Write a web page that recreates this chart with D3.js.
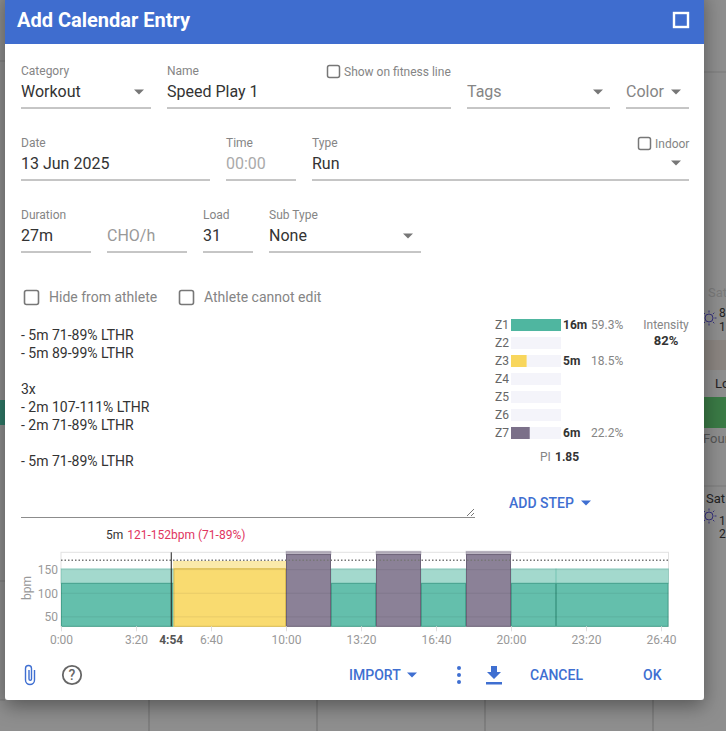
<!DOCTYPE html>
<html>
<head>
<meta charset="utf-8">
<script src="https://cdn.jsdelivr.net/npm/d3@7"></script>
<style>
  html, body { margin: 0; padding: 0; background: #8e8e8e; overflow: hidden; }
  svg { display: block; font-family: Roboto, sans-serif; }
</style>
</head>
<body>
<svg id="chart" width="726" height="731"></svg>
<script>
// workout steps
const stepMinutes = [5, 5, 2, 2, 2, 2, 2, 2, 5];
const stepLow = [121, 152, 182, 121, 182, 121, 182, 121, 121];
const stepHigh = [152, 168, 189, 152, 189, 152, 189, 152, 152];
const stepZone = ["Z1", "Z3", "Z7", "Z1", "Z7", "Z1", "Z7", "Z1", "Z1"];

const lthr = 170;
const cursorSeconds = 294;
const xTickSeconds = [0, 200, 400, 600, 800, 1000, 1200, 1400, 1600];
const xTickLabels = ["0:00", "3:20", "6:40", "10:00", "13:20", "16:40", "20:00", "23:20", "26:40"];
const yTicks = [50, 100, 150];

// zone table
const zoneNames = ["Z1", "Z2", "Z3", "Z4", "Z5", "Z6", "Z7"];
const zonePercent = [59.3, 0, 18.5, 0, 0, 0, 22.2];
const zoneTime = ["16m", "", "5m", "", "", "", "6m"];
const zonePercentLabel = ["59.3%", "", "18.5%", "", "", "", "22.2%"];

const notesLines = ["- 5m 71-89% LTHR", "- 5m 89-99% LTHR", "", "3x", "- 2m 107-111% LTHR", "- 2m 71-89% LTHR", "", "- 5m 71-89% LTHR"];

const zoneColor = { Z1: "#4fb6a0", Z3: "#f8d65c", Z7: "#7b7089" };
const blue = "#3f6fd1";

const svg = d3.select("#chart");

// ---- calendar behind the dialog
svg.append("rect").attr("width", 726).attr("height", 731).attr("fill", "#8e8e8e");
const bg = svg.append("g");
bg.append("rect").attr("x", 704).attr("y", 340).attr("width", 22).attr("height", 30).attr("fill", "#8a8480");
bg.append("rect").attr("x", 704).attr("y", 397).attr("width", 22).attr("height", 31).attr("fill", "#3a7a45");
bg.append("rect").attr("x", 0).attr("y", 400).attr("width", 5).attr("height", 25).attr("fill", "#2f7a68");
[[0, 5, 61], [704, 726, 72], [0, 5, 581], [704, 726, 486], [0, 5, 700]].forEach((l) => {
  bg.append("line").attr("x1", l[0]).attr("x2", l[1]).attr("y1", l[2]).attr("y2", l[2]).attr("stroke", "#7a7a7a");
});
[149, 317, 485, 653].forEach((x) => {
  bg.append("line").attr("x1", x).attr("x2", x).attr("y1", 700).attr("y2", 731).attr("stroke", "#6f6f6f");
});
[["Sat", 708, 297, "#7a7a7a", 13], ["8", 719, 317, "#222", 12], ["1", 719, 331, "#222", 12], ["Lo", 715, 388, "#222", 13],
 ["Four", 703, 443, "#555", 13], ["Sat", 706, 503, "#222", 13], ["1", 719, 525, "#222", 12], ["2", 719, 538, "#222", 12]].forEach((t) => {
  bg.append("text").attr("x", t[1]).attr("y", t[2]).attr("font-size", t[4]).attr("fill", t[3]).text(t[0]);
});
[318, 516].forEach((cy) => {
  bg.append("circle").attr("cx", 709).attr("cy", cy).attr("r", 4).attr("fill", "none").attr("stroke", "#35307f");
  d3.range(8).forEach((i) => {
    const a = (i * Math.PI) / 4;
    bg.append("line")
      .attr("x1", 709 + 5.5 * Math.cos(a)).attr("y1", cy + 5.5 * Math.sin(a))
      .attr("x2", 709 + 7.5 * Math.cos(a)).attr("y2", cy + 7.5 * Math.sin(a))
      .attr("stroke", "#35307f");
  });
});

// ---- dialog
const defs = svg.append("defs");
const shadow = defs.append("filter").attr("id", "shadow").attr("x", "-10%").attr("y", "-10%").attr("width", "120%").attr("height", "120%");
shadow.append("feDropShadow").attr("dx", 0).attr("dy", 6).attr("stdDeviation", 10).attr("flood-color", "#000").attr("flood-opacity", 0.4);

svg.append("rect").attr("x", 5).attr("y", -10).attr("width", 699).attr("height", 710).attr("rx", 3)
  .attr("fill", "#fff").attr("filter", "url(#shadow)");
svg.append("rect").attr("x", 5).attr("y", 0).attr("width", 699).attr("height", 44).attr("fill", "#3f6dcf");
svg.append("text").attr("x", 17).attr("y", 27).attr("font-size", 20).attr("font-weight", 700).attr("fill", "#fff").text("Add Calendar Entry");
svg.append("rect").attr("x", 674).attr("y", 13).attr("width", 14).attr("height", 14).attr("fill", "none").attr("stroke", "#fff").attr("stroke-width", 2.4);

function text(x, y, str, size, fill, weight, anchor) {
  return svg.append("text").attr("x", x).attr("y", y).attr("font-size", size).attr("fill", fill)
    .attr("font-weight", weight || 400).attr("text-anchor", anchor || "start").text(str);
}

function caret(x, y, color) {
  svg.append("path").attr("d", `M${x - 5},${y - 2.5}L${x + 5},${y - 2.5}L${x},${y + 2.5}Z`).attr("fill", color || "#777");
}

function field(x1, x2, y, label, value, valueColor) {
  svg.append("line").attr("x1", x1).attr("x2", x2).attr("y1", y).attr("y2", y).attr("stroke", "#8c8c8c").attr("stroke-width", 1);
  if (label) text(x1, y - 33, label, 12, "#858585");
  if (value) text(x1, y - 11, value, 16, valueColor || "#333");
}

function checkbox(x, y, size, sw) {
  svg.append("rect").attr("x", x).attr("y", y).attr("width", size).attr("height", size).attr("rx", 2)
    .attr("fill", "#fff").attr("stroke", "#777").attr("stroke-width", sw);
}

field(21, 151, 108, "Category", "Workout");
caret(139, 92);
field(167, 451, 108, "Name", "Speed Play 1");
checkbox(327.5, 65.5, 12, 1.5);
text(344, 76, "Show on fitness line", 12, "#858585");
field(467, 610, 108, null, "Tags", "#858585");
caret(598, 92);
field(626, 689, 108, null, "Color", "#858585");
caret(676, 92);

field(21, 210, 180, "Date", "13 Jun 2025");
field(226, 296, 180, "Time", "00:00", "#aaa");
field(312, 689, 180, "Type", "Run");
caret(676, 163);
checkbox(638.5, 137.5, 12, 1.5);
text(655, 148, "Indoor", 12, "#858585");

field(21, 91, 252, "Duration", "27m");
field(107, 187, 252, null, "CHO/h", "#999");
field(203, 253, 252, "Load", "31");
field(269, 421, 252, "Sub Type", "None");
caret(408, 236);

checkbox(24.5, 290.5, 14, 1.6);
text(49, 302, "Hide from athlete", 14, "#858585");
checkbox(179.5, 290.5, 14, 1.6);
text(204, 302, "Athlete cannot edit", 14, "#858585");

// notes
svg.append("g").selectAll("text").data(notesLines).join("text")
  .attr("x", 21).attr("y", (d, i) => 340 + i * 18)
  .attr("font-size", 14).attr("fill", "#333").text((d) => d);
svg.append("line").attr("x1", 21).attr("x2", 475).attr("y1", 517.5).attr("y2", 517.5).attr("stroke", "#8c8c8c");
svg.append("path").attr("d", "M467,516L474,509M471,516L474,513").attr("stroke", "#777").attr("fill", "none");

// ---- zone bars
const zoneX = d3.scaleLinear().domain([0, d3.max(zonePercent)]).range([511, 561]);
const zoneY = d3.scaleBand().domain(zoneNames).range([316, 442]).paddingInner(0.333).paddingOuter(0.167);
const zoneRows = svg.append("g").selectAll("g").data(zoneNames).join("g");
zoneRows.append("rect").attr("x", zoneX(0)).attr("y", (d) => zoneY(d)).attr("width", zoneX.range()[1] - zoneX(0))
  .attr("height", zoneY.bandwidth()).attr("fill", "#f4f4fa");
zoneRows.append("rect").attr("x", zoneX(0)).attr("y", (d) => zoneY(d))
  .attr("width", (d, i) => zoneX(zonePercent[i]) - zoneX(0)).attr("height", zoneY.bandwidth())
  .attr("fill", (d) => zoneColor[d] || "none");
const zoneMid = (d) => zoneY(d) + zoneY.bandwidth() / 2 + 4;
zoneRows.append("text").attr("x", 495).attr("y", zoneMid).attr("font-size", 12).attr("fill", "#666").text((d) => d);
zoneRows.append("text").attr("x", 563).attr("y", zoneMid).attr("font-size", 12).attr("font-weight", 700).attr("fill", "#333").text((d, i) => zoneTime[i]);
zoneRows.append("text").attr("x", 591).attr("y", zoneMid).attr("font-size", 12).attr("fill", "#858585").text((d, i) => zonePercentLabel[i]);

text(666, 329, "Intensity", 12, "#858585", 400, "middle");
text(666, 345, "82%", 13, "#333", 700, "middle");
text(540, 461, "PI", 12, "#858585");
text(555, 461, "1.85", 12, "#333", 700);
text(509, 508, "ADD STEP", 14, blue, 500);
caret(586, 503, blue);

// ---- workout chart
const margin = { left: 61, right: 668.5, top: 552.3, bottom: 626.3 };
const totalSeconds = d3.sum(stepMinutes) * 60;
const x = d3.scaleLinear().domain([0, totalSeconds]).range([margin.left, margin.right]);
const y = d3.scaleLinear().domain([30, 186.8]).range([margin.bottom, margin.top]);

const steps = [];
let start = 0;
stepMinutes.forEach((m, i) => {
  steps.push({ start: start, end: start + m * 60, low: stepLow[i], high: stepHigh[i], zone: stepZone[i] });
  start += m * 60;
});

const chart = svg.append("g");
chart.append("rect").attr("x", margin.left).attr("y", margin.top)
  .attr("width", margin.right - margin.left).attr("height", margin.bottom - margin.top)
  .attr("fill", "none").attr("stroke", "#e2e2e2");

chart.append("g").selectAll("rect").data(steps).join("rect")
  .attr("x", (d) => x(d.start)).attr("width", (d) => x(d.end) - x(d.start))
  .attr("y", (d) => y(d.high)).attr("height", (d) => y(d.low) - y(d.high))
  .attr("fill", (d) => zoneColor[d.zone]).attr("fill-opacity", 0.52)
  .attr("stroke", (d) => zoneColor[d.zone]).attr("stroke-opacity", 0.3);
chart.append("g").selectAll("rect").data(steps).join("rect")
  .attr("x", (d) => x(d.start) + 0.5).attr("width", (d) => x(d.end) - x(d.start) - 1)
  .attr("y", (d) => y(d.low)).attr("height", (d) => y(y.domain()[0]) - y(d.low))
  .attr("fill", (d) => zoneColor[d.zone]).attr("fill-opacity", 0.88)
  .attr("stroke", (d) => d3.color(zoneColor[d.zone]).darker(0.35));

// grid over the bars
chart.append("g").selectAll("line").data(yTicks).join("line")
  .attr("x1", margin.left).attr("x2", margin.right).attr("y1", (d) => y(d)).attr("y2", (d) => y(d))
  .attr("stroke", "#000").attr("stroke-opacity", 0.07);

// threshold
chart.append("line").attr("x1", margin.left).attr("x2", margin.right).attr("y1", y(lthr)).attr("y2", y(lthr))
  .attr("stroke", "#777").attr("stroke-width", 1.5).attr("stroke-dasharray", "1.5,2");

// axes
const xAxis = chart.append("g").attr("transform", `translate(0,${margin.bottom})`)
  .call(d3.axisBottom(x).tickValues(xTickSeconds).tickSize(5).tickPadding(4).tickFormat((d, i) => xTickLabels[i]));
const yAxis = chart.append("g").attr("transform", `translate(${margin.left},0)`)
  .call(d3.axisLeft(y).tickValues(yTicks).tickSize(0).tickPadding(3));
xAxis.select(".domain").remove();
yAxis.select(".domain").remove();
xAxis.selectAll("line").attr("stroke", "#ddd");
chart.selectAll(".tick text").attr("font-family", "Roboto, sans-serif").attr("font-size", 12).attr("fill", "#999");
chart.append("text").attr("transform", "translate(31,588) rotate(-90)").attr("text-anchor", "middle")
  .attr("font-size", 12).attr("fill", "#999").text("bpm");

// cursor
chart.append("line").attr("x1", x(cursorSeconds)).attr("x2", x(cursorSeconds)).attr("y1", margin.top).attr("y2", margin.bottom)
  .attr("stroke", "#222");
text(x(cursorSeconds), 644, "4:54", 12, "#555", 700, "middle");
const hover = text(106, 539, "5m ", 12, "#333");
hover.append("tspan").attr("fill", "#e0355f").attr("dx", 1).text("121-152bpm (71-89%)");

// ---- footer
svg.append("path")
  .attr("d", "M34.5,671V681A4.5,4.5 0 0 1 25.5,681V669.5A3,3 0 0 1 31.5,669.5V680A1,1 0 0 1 29,680V671")
  .attr("transform", "translate(0,-1)")
  .attr("fill", "none").attr("stroke", blue).attr("stroke-width", 1.4);
svg.append("circle").attr("cx", 72).attr("cy", 675).attr("r", 9.2).attr("fill", "none").attr("stroke", "#666").attr("stroke-width", 1.8);
text(72, 680, "?", 14, "#666", 500, "middle");
text(349, 680, "IMPORT", 14, blue, 500);
caret(412, 675, blue);
[668, 675, 682].forEach((cy) => {
  svg.append("circle").attr("cx", 459).attr("cy", cy).attr("r", 2).attr("fill", blue);
});
svg.append("path").attr("d", "M491,666H497V672H501L494,679L487,672H491ZM486,682H502V684.5H486Z").attr("fill", blue);
text(530, 680, "CANCEL", 14, blue, 500);
text(643, 680, "OK", 14, blue, 500);
</script>
</body>
</html>
